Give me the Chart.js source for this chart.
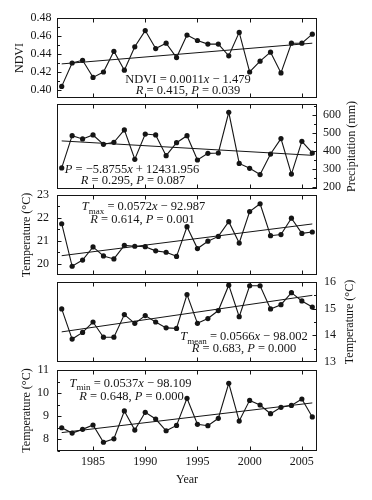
<!DOCTYPE html>
<html>
<head>
<meta charset="utf-8">
<script src="https://cdn.jsdelivr.net/npm/chart.js@4.4.7/dist/chart.umd.min.js"></script>
<style>
  html, body { margin: 0; padding: 0; background: #fff; }
  #wrap { position: relative; width: 372px; height: 500px; overflow: hidden; background: #fff; }
  #wrap canvas { position: absolute; left: 0; }
</style>
</head>
<body>
<div id="wrap"></div>
<script>
// values, one per year 1982-2006
const years = [1982, 1983, 1984, 1985, 1986, 1987, 1988, 1989, 1990, 1991, 1992, 1993,
  1994, 1995, 1996, 1997, 1998, 1999, 2000, 2001, 2002, 2003, 2004, 2005, 2006];
const yearTicks = [1985, 1990, 1995, 2000, 2005];

const ndvi = [0.404, 0.430, 0.433, 0.414, 0.420, 0.443, 0.422, 0.448, 0.466, 0.446, 0.452, 0.436,
  0.461, 0.455, 0.451, 0.451, 0.438, 0.464, 0.420, 0.432, 0.442, 0.419, 0.452, 0.452, 0.462];
const precip = [306, 485, 467, 489, 437, 448, 517, 354, 494, 489, 374, 446,
  485, 350, 387, 389, 615, 331, 304, 269, 383, 469, 272, 454, 389];
const tmax = [21.75, 19.90, 20.17, 20.74, 20.35, 20.22, 20.81, 20.77, 20.75, 20.57, 20.51, 20.33,
  21.62, 20.67, 20.99, 21.20, 21.84, 20.91, 22.28, 22.62, 21.23, 21.28, 21.99, 21.33, 21.39];
const tmean = [14.99, 13.86, 14.11, 14.50, 13.93, 13.93, 14.78, 14.45, 14.74, 14.50, 14.28, 14.26,
  15.53, 14.45, 14.63, 14.93, 15.88, 14.70, 15.86, 15.86, 14.99, 15.15, 15.60, 15.29, 15.06];
const tmin = [8.49, 8.26, 8.42, 8.61, 7.86, 8.01, 9.22, 8.39, 9.16, 8.87, 8.36, 8.59,
  9.77, 8.64, 8.58, 8.90, 10.42, 8.78, 9.68, 9.48, 9.10, 9.38, 9.46, 9.74, 8.96];

// fitted trend lines, start and end as drawn
const trendYears = [1982, 2006];
const ndviTrend = [0.429, 0.452];
const precipTrend = [456, 376];
const tmaxTrend = [20.36, 21.74];
const tmeanTrend = [14.13, 15.50];
const tminTrend = [8.28, 9.57];

const ndviTicks = [0.40, 0.42, 0.44, 0.46, 0.48];
const precipTicks = [200, 300, 400, 500, 600];
const tmaxTicks = [20, 21, 22, 23];
const tmeanTicks = [13, 14, 15, 16];
const tminTicks = [8, 9, 10, 11];

const FONT = "'Liberation Serif', 'Times New Roman', serif";
const INK = '#151515';
Chart.defaults.font.family = FONT;
Chart.defaults.font.size = 12;
Chart.defaults.color = INK;

const eq = (...parts) => parts.map(p => typeof p === 'string' ? {t: p} : p);
const it = t => ({t, i: true});
const sub = t => ({t, s: true});

const panels = [
  {top: 18, bottom: 98, side: 'left', values: ndvi, trend: ndviTrend, ticks: ndviTicks,
    min: 0.3911, max: 0.48, fmt: v => v.toFixed(2), title: 'NDVI', titlePad: 12.8, tickPad: 5.5,
    lines: [
      {dx: 131, dy: 61, parts: eq('NDVI = 0.0011', it('x'), ' \u2212 1.479')},
      {dx: 131, dy: 72, parts: eq(it('R'), ' = 0.415, ', it('P'), ' = 0.039')}
    ]},
  {top: 104, bottom: 189, side: 'right', values: precip, trend: precipTrend, ticks: precipTicks,
    min: 189, max: 661, fmt: v => String(v), title: 'Precipitation (mm)', titleDx: 35, tickPad: 6,
    lines: [
      {dx: 75, dy: 64.5, parts: eq(it('P'), ' = \u22125.8755', it('x'), ' + 12431.956')},
      {dx: 76, dy: 76, parts: eq(it('R'), ' = 0.295, ', it('P'), ' = 0.087')}
    ]},
  {top: 195, bottom: 275, side: 'left', values: tmax, trend: tmaxTrend, ticks: tmaxTicks,
    min: 19.52, max: 23, fmt: v => String(v), title: 'Temperature (\u00b0C)', titlePad: 19.3, tickPad: 8,
    lines: [
      {dx: 86.5, dy: 11, parts: eq(it('T'), sub('max'), ' = 0.0572', it('x'), ' \u2212 92.987')},
      {dx: 85.5, dy: 24, parts: eq(it('R'), ' = 0.614, ', it('P'), ' = 0.001')}
    ]},
  {top: 282, bottom: 362, side: 'right', values: tmean, trend: tmeanTrend, ticks: tmeanTicks,
    min: 13, max: 16, fmt: v => String(v), title: 'Temperature (\u00b0C)', titleDx: 33, tickPad: 7,
    lines: [
      {dx: 187, dy: 54, parts: eq(it('T'), sub('mean'), ' = 0.0566', it('x'), ' \u2212 98.002')},
      {dx: 187, dy: 65.5, parts: eq(it('R'), ' = 0.683, ', it('P'), ' = 0.000')}
    ]},
  {top: 370, bottom: 451, side: 'left', values: tmin, trend: tminTrend, ticks: tminTicks,
    min: 7.48, max: 11, fmt: v => String(v), title: 'Temperature (\u00b0C)', titlePad: 19.3, tickPad: 8,
    lines: [
      {dx: 73.5, dy: 12.5, parts: eq(it('T'), sub('min'), ' = 0.0537', it('x'), ' \u2212 98.109')},
      {dx: 74.5, dy: 26, parts: eq(it('R'), ' = 0.648, ', it('P'), ' = 0.000')}
    ]}
];

function drawRich(ctx, parts, cx, cy, size) {
  const fontOf = p => (p.i ? 'italic ' : '') + (p.s ? size * 0.72 : size) + 'px ' + FONT;
  let w = 0;
  parts.forEach(p => { ctx.font = fontOf(p); p.w = ctx.measureText(p.t).width; w += p.w; });
  let x = cx - w / 2;
  const base = cy + size * 0.33;
  ctx.textAlign = 'left';
  ctx.textBaseline = 'alphabetic';
  parts.forEach(p => {
    ctx.font = fontOf(p);
    ctx.fillText(p.t, x, base + (p.s ? size * 0.3 : 0));
    x += p.w;
  });
}

// box round the plot with inward tick marks
const framePlugin = {
  id: 'frame',
  afterDraw(chart) {
    const {ctx, chartArea: a, scales: {x, y}} = chart;
    const L = Math.round(a.left) + 0.5, R = Math.round(a.right) - 0.5;
    const T = Math.round(a.top) + 0.5, B = Math.round(a.bottom) - 0.5;
    ctx.save();
    ctx.strokeStyle = INK;
    ctx.lineWidth = 1;
    ctx.strokeRect(L, T, R - L, B - T);
    ctx.beginPath();
    yearTicks.forEach(v => {
      const px = Math.round(x.getPixelForValue(v)) + 0.5;
      ctx.moveTo(px, B); ctx.lineTo(px, B - 4);
      ctx.moveTo(px, T); ctx.lineTo(px, T + 4);
    });
    const majors = y.ticks.map(t => t.value);
    const step = majors[1] - majors[0];
    const minors = [majors[0] - step / 2, ...majors.map(v => v + step / 2)]
      .filter(v => v > y.min + step * 0.01 && v < y.max - step * 0.01);
    const left = y.position === 'left';
    const edge = left ? L : R, dir = left ? 1 : -1;
    const mark = (v, len) => {
      const py = Math.round(y.getPixelForValue(v)) + 0.5;
      ctx.moveTo(edge, py); ctx.lineTo(edge + dir * len, py);
    };
    majors.filter(v => v > y.min && v < y.max).forEach(v => mark(v, 4));
    minors.forEach(v => mark(v, 2.5));
    ctx.stroke();
    ctx.restore();
  }
};

// regression text and the right-hand axis titles
const textPlugin = {
  id: 'notes',
  afterDraw(chart, args, opts) {
    const {ctx, chartArea: a} = chart;
    ctx.save();
    ctx.fillStyle = INK;
    opts.lines.forEach(l => drawRich(ctx, l.parts, a.left + l.dx, a.top + l.dy, 12.5));
    if (opts.sideTitle) {
      ctx.translate(a.right + opts.sideDx, (a.top + a.bottom) / 2);
      ctx.rotate(-Math.PI / 2);
      ctx.font = '12px ' + FONT;
      ctx.textAlign = 'center';
      ctx.textBaseline = 'middle';
      ctx.fillText(opts.sideTitle, 0, 0);
    }
    ctx.restore();
  }
};

const wrap = document.getElementById('wrap');
panels.forEach((p, k) => {
  const last = k === panels.length - 1;
  const cTop = p.top - 12;
  const cH = last ? 500 - cTop : p.bottom - p.top + 24;
  const axisH = cH - 12 - (p.bottom - p.top);
  const cv = document.createElement('canvas');
  cv.width = 372;
  cv.height = cH;
  cv.style.top = cTop + 'px';
  wrap.appendChild(cv);
  const left = p.side === 'left';

  new Chart(cv, {
    type: 'line',
    data: {
      datasets: [
        {
          data: years.map((yr, i) => ({x: yr, y: p.values[i]})),
          borderColor: INK,
          borderWidth: 1.1,
          pointRadius: 2.6,
          pointBackgroundColor: INK,
          pointBorderWidth: 0,
          tension: 0,
          clip: false
        },
        {
          data: trendYears.map((yr, i) => ({x: yr, y: p.trend[i]})),
          borderColor: INK,
          borderWidth: 1,
          pointRadius: 0,
          tension: 0
        }
      ]
    },
    options: {
      responsive: false,
      animation: false,
      layout: {padding: {top: 12, bottom: last ? 0 : 12, left: left ? 0 : 57, right: left ? 55 : 0}},
      plugins: {
        legend: {display: false},
        tooltip: {enabled: false},
        notes: {lines: p.lines, sideTitle: left ? null : p.title, sideDx: p.titleDx}
      },
      scales: {
        x: {
          type: 'linear',
          min: 1981.55,
          max: 2006.45,
          display: last,
          grid: {display: false, drawTicks: false},
          border: {display: false},
          ticks: {padding: 4, autoSkip: false, maxRotation: 0, callback: v => String(v)},
          afterBuildTicks: s => { s.ticks = yearTicks.map(v => ({value: v})); },
          afterFit: s => { s.height = last ? axisH : 0; s.paddingLeft = 0; s.paddingRight = 0; },
          title: {display: last, text: 'Year', font: {size: 12}, padding: {top: 0, bottom: 13}}
        },
        y: {
          type: 'linear',
          position: p.side,
          min: p.min,
          max: p.max,
          grid: {display: false, drawTicks: false},
          border: {display: false},
          ticks: {padding: p.tickPad, autoSkip: false, callback: v => p.fmt(v)},
          afterBuildTicks: s => { s.ticks = p.ticks.map(v => ({value: v})); },
          afterFit: s => { s.width = left ? 57 : 55; s.paddingTop = 0; s.paddingBottom = 0; },
          title: {display: left, text: p.title, font: {size: 12}, padding: {top: p.titlePad || 0, bottom: 0}}
        }
      }
    },
    plugins: [framePlugin, textPlugin]
  });
});
</script>
</body>
</html>
